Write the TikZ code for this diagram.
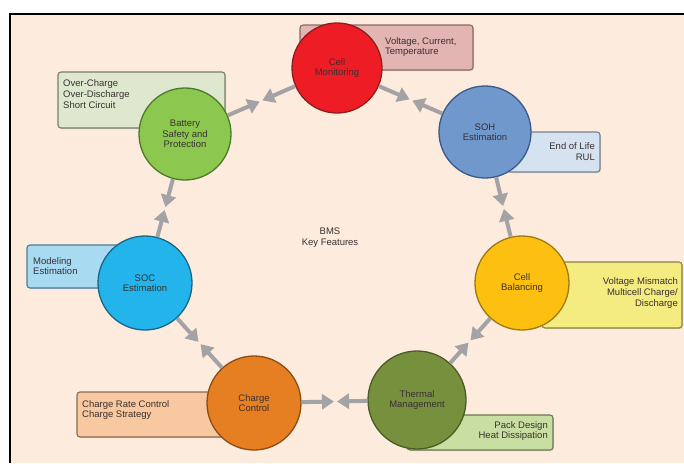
\documentclass[tikz,border=0pt]{standalone}
\usepackage{fontspec}
\setmainfont{Liberation Sans}
\usetikzlibrary{arrows.meta,calc,shadows}
\definecolor{bg}{HTML}{FDEBDD}
\definecolor{arrgray}{HTML}{A3A3A6}
\definecolor{txt}{HTML}{3A3030}
\definecolor{redF}{HTML}{EE1C24}\definecolor{redD}{HTML}{8E1E1E}
\definecolor{redB}{HTML}{E2B4B2}\definecolor{redBD}{HTML}{8A6A68}
\definecolor{grnF}{HTML}{8CC850}\definecolor{grnD}{HTML}{4C7A2A}
\definecolor{grnB}{HTML}{DDE8CF}\definecolor{grnBD}{HTML}{767E6C}
\definecolor{bluF}{HTML}{7098CC}\definecolor{bluD}{HTML}{3A5A88}
\definecolor{bluB}{HTML}{D5E2F0}\definecolor{bluBD}{HTML}{768294}
\definecolor{cyaF}{HTML}{22B4EA}\definecolor{cyaD}{HTML}{1A6688}
\definecolor{cyaB}{HTML}{A8DAF2}\definecolor{cyaBD}{HTML}{4A7C96}
\definecolor{yelF}{HTML}{FDC010}\definecolor{yelD}{HTML}{9C7A10}
\definecolor{yelB}{HTML}{F4EC80}\definecolor{yelBD}{HTML}{878240}
\definecolor{olvF}{HTML}{77903E}\definecolor{olvD}{HTML}{4A5C26}
\definecolor{olvB}{HTML}{C9DEA2}\definecolor{olvBD}{HTML}{687850}
\definecolor{orgF}{HTML}{E67E22}\definecolor{orgD}{HTML}{8C4C16}
\definecolor{orgB}{HTML}{F8C8A0}\definecolor{orgBD}{HTML}{8A6A50}
\begin{document}
\begin{tikzpicture}[x=1pt,y=-1pt,
  circ/.style={circle, draw, line width=1.3pt, minimum size=#1, inner sep=0pt,
    align=center, font=\fontsize{9.5}{10.5}\selectfont, text=txt},
  infobox/.style={draw, rounded corners=3pt, line width=1.1pt, inner sep=0pt,
    drop shadow={opacity=0.25, shadow xshift=1pt, shadow yshift=-1pt}},
  boxtext/.style={font=\fontsize{9.5}{10.8}\selectfont, text=txt, inner sep=0pt},
  arr/.style={draw=arrgray, line width=4pt, -{Triangle[length=12pt,width=15pt]}, shorten >=1.5pt}]
\useasboundingbox (0,0) rectangle (684,463);
\fill[white] (0,0) rectangle (684,463);
\fill[bg] (10,14) rectangle (684,463);
\draw[line width=2pt] (10,463) -- (10,14) -- (684,14);

% info boxes
\node[infobox, fill=redB, draw=redBD, minimum width=173, minimum height=45] (bcm) at (386.5,47.5) {};
\node[boxtext, align=left, anchor=west] (tcm) at (385,47) {Voltage, Current,\\Temperature};
\node[infobox, fill=grnB, draw=grnBD, minimum width=167, minimum height=56] (bbs) at (141.5,100) {};
\node[boxtext, align=left, anchor=west] (tbs) at (63,94) {Over-Charge\\Over-Discharge\\Short Circuit};
\node[infobox, fill=bluB, draw=bluBD, minimum width=93, minimum height=40] (bsoh) at (553.5,152) {};
\node[boxtext, align=right, anchor=east] (tsoh) at (595,152) {End of Life\\RUL};
\node[infobox, fill=cyaB, draw=cyaBD, minimum width=113, minimum height=43] (bsoc) at (83.5,266.5) {};
\node[boxtext, align=left, anchor=west] (tsoc) at (33,266) {Modeling\\Estimation};
\node[infobox, fill=yelB, draw=yelBD, minimum width=140, minimum height=66] (bcb) at (612,295) {};
\node[boxtext, align=right, anchor=east] (tcb) at (678,293) {Voltage Mismatch\\Multicell Charge/\\Discharge};
\node[infobox, fill=olvB, draw=olvBD, minimum width=146, minimum height=35] (btm) at (480,432.5) {};
\node[boxtext, align=right, anchor=east] (ttm) at (548,431) {Pack Design\\Heat Dissipation};
\node[infobox, fill=orgB, draw=orgBD, minimum width=173, minimum height=45] (bcc) at (163.5,414.5) {};
\node[boxtext, align=left, anchor=west] (tcc) at (82,410) {Charge Rate Control\\Charge Strategy};

% circles
\node[circ=90, fill=redF, draw=redD] (cm) at (337,68) {Cell\\Monitoring};
\node[circ=92, fill=bluF, draw=bluD] (soh) at (485,132) {SOH\\Estimation};
\node[circ=94, fill=yelF, draw=yelD] (cb) at (522,283) {Cell\\Balancing};
\node[circ=98, fill=olvF, draw=olvD] (tm) at (417,400) {Thermal\\Management};
\node[circ=94, fill=orgF, draw=orgD] (cc) at (254,403) {Charge\\Control};
\node[circ=94, fill=cyaF, draw=cyaD] (soc) at (145,283) {SOC\\Estimation};
\node[circ=92, fill=grnF, draw=grnD] (bs) at (185,134) {Battery\\Safety and\\Protection};

\node[font=\fontsize{9.5}{11}\selectfont, text=txt, align=center] (center) at (330,238) {BMS\\Key Features};

% arrows meeting head to head between neighbours
\foreach \a/\b/\m in {cm/soh/m1, soh/cb/m2, cb/tm/m3, tm/cc/m4, cc/soc/m5, soc/bs/m6, bs/cm/m7}{
  \coordinate (\m) at ($(\a)!0.5!(\b)$);
  \draw[arr] (\a) -- (\m);
  \draw[arr] (\b) -- (\m);
}
\end{tikzpicture}
\end{document}
